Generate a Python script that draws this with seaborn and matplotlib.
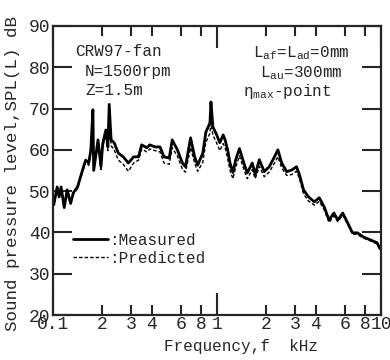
import matplotlib
matplotlib.use("Agg")
import matplotlib.pyplot as plt
import seaborn as sns
import pandas as pd

# frequency in kHz
freq = [0.101, 0.106, 0.109, 0.112, 0.117, 0.122, 0.128, 0.133, 0.141, 0.147,
        0.151, 0.158, 0.165, 0.170, 0.175, 0.177, 0.188, 0.196, 0.201, 0.210,
        0.216, 0.220, 0.226, 0.236, 0.250, 0.268, 0.288, 0.310, 0.332, 0.347,
        0.373, 0.389, 0.418, 0.449, 0.475, 0.511, 0.533, 0.573, 0.615, 0.642,
        0.690, 0.730, 0.762, 0.819, 0.855, 0.905, 0.918, 0.944, 0.986, 1.04,
        1.09, 1.12, 1.16, 1.20, 1.25, 1.30, 1.37, 1.47, 1.53, 1.64,
        1.71, 1.81, 1.94, 2.08, 2.22, 2.35, 2.48, 2.66, 2.85, 3.05,
        3.18, 3.37, 3.61, 3.92, 4.20, 4.50, 4.82, 5.16, 5.45, 5.84,
        6.26, 6.70, 7.18, 7.80, 8.59, 9.46, 9.86]

measured = [46.7, 51.0, 48.6, 51.0, 46.0, 50.3, 47.0, 49.6, 51.0, 53.4,
            55.0, 57.5, 56.8, 60.0, 69.7, 55.0, 62.4, 55.9, 61.6, 64.8,
            60.7, 71.0, 62.4, 61.7, 59.2, 58.3, 56.8, 58.3, 58.3, 61.2,
            60.5, 61.2, 60.7, 60.7, 58.3, 58.0, 62.4, 60.0, 56.8, 55.9,
            62.9, 58.3, 56.3, 59.2, 64.3, 66.5, 71.6, 65.5, 64.0, 61.7,
            63.6, 62.4, 60.0, 56.8, 54.5, 57.6, 60.3, 56.3, 54.4, 56.8,
            54.0, 57.6, 54.7, 55.9, 58.0, 60.0, 56.8, 54.7, 55.1, 55.9,
            54.0, 50.3, 48.6, 47.4, 48.4, 46.2, 43.0, 44.7, 43.0, 44.7,
            42.3, 39.9, 39.9, 38.9, 38.2, 37.5, 36.0]

predicted = [46.5, 50.5, 48.4, 50.6, 46.2, 50.0, 47.2, 49.3, 50.6, 53.0,
             54.5, 57.0, 56.2, 59.3, 68.5, 54.8, 61.5, 55.2, 60.8, 63.5,
             59.8, 69.5, 61.0, 60.0, 57.5, 56.5, 54.8, 56.8, 57.5, 60.2,
             59.5, 60.2, 59.8, 59.5, 56.8, 56.5, 60.5, 58.5, 55.3, 54.6,
             60.5, 56.8, 54.8, 57.0, 61.8, 64.0, 66.5, 63.5, 62.0, 59.8,
             61.5, 60.5, 58.0, 55.0, 53.0, 55.8, 58.5, 54.8, 53.0, 55.2,
             53.0, 56.0, 53.5, 54.6, 56.5, 58.3, 55.6, 53.8, 54.0, 54.8,
             53.0, 49.3, 47.6, 46.6, 47.5, 45.5, 42.4, 44.0, 42.6, 44.2,
             41.9, 39.6, 39.5, 38.6, 38.0, 37.2, 36.0]

major_x = [0.1, 1, 10]
major_x_labels = ["0.1", "1", "10"]
minor_x = [0.2, 0.3, 0.4, 0.6, 0.8, 2, 3, 4, 6, 8]
minor_x_labels = ["2", "3", "4", "6", "8", "2", "3", "4", "6", "8"]
y_ticks = [20, 30, 40, 50, 60, 70, 80, 90]

sns.set_style("ticks")
plt.rcParams["font.family"] = ["Liberation Mono", "DejaVu Sans Mono"]
plt.rcParams["mathtext.fontset"] = "custom"
plt.rcParams["mathtext.rm"] = "Liberation Mono"
plt.rcParams["mathtext.it"] = "Liberation Mono"

df = pd.DataFrame({"f": freq, "Measured": measured, "Predicted": predicted})

fig = plt.figure(figsize=(3.9, 3.6), dpi=100)
ax = fig.add_axes([0.136, 0.125, 0.841, 0.803])

sns.lineplot(data=df, x="f", y="Measured", color="black", lw=2.0,
             label=":Measured", ax=ax)
sns.lineplot(data=df, x="f", y="Predicted", color="black", lw=1.0,
             linestyle=(0, (2.5, 1.5)), label=":Predicted", ax=ax)

ax.set_xscale("log")
ax.set_xlim(0.1, 10)
ax.set_ylim(20, 90)
ax.set_xticks(major_x, major_x_labels)
ax.set_xticks(minor_x, minor_x_labels, minor=True)
ax.set_yticks(y_ticks)

ax.tick_params(axis="x", which="major", direction="in", length=16, width=1.5,
               top=True, labelsize=13, pad=1)
ax.tick_params(axis="x", which="minor", direction="in", length=7, width=1.5,
               top=True, labelsize=13, pad=1)
ax.tick_params(axis="y", direction="in", length=14, width=1.5,
               right=True, labelsize=13, pad=2)
for s in ax.spines.values():
    s.set_linewidth(1.6)

ax.set_xlabel("Frequency,f  kHz", fontsize=11.5)
ax.xaxis.set_label_coords(0.573, -0.083)
ax.set_ylabel("Sound pressure level,SPL(L) dB", fontsize=12.6)
ax.yaxis.set_label_coords(-0.1, 0.49)

# annotations
tk = dict(transform=ax.transAxes, fontsize=11.5, va="center", ha="left")
ax.text(0.067, 0.91, "CRW97-fan", **tk)
ax.text(0.098, 0.841, "N=1500rpm", **tk)
ax.text(0.098, 0.775, "Z=1.5m", **tk)
ax.text(0.61, 0.905, r"L$_{\mathrm{af}}$=L$_{\mathrm{ad}}$=0mm", **tk)
ax.text(0.631, 0.838, r"L$_{\mathrm{au}}$=300mm", **tk)
ax.text(0.579, 0.772, r"η$_{\mathrm{max}}$-point", **tk)

ax.legend(loc="center left", bbox_to_anchor=(0.06, 0.227), frameon=False,
          fontsize=11.5, handlelength=2.2, handletextpad=0.1,
          labelspacing=0.2, borderpad=0, borderaxespad=0)

fig.savefig("out.png", dpi=100)
